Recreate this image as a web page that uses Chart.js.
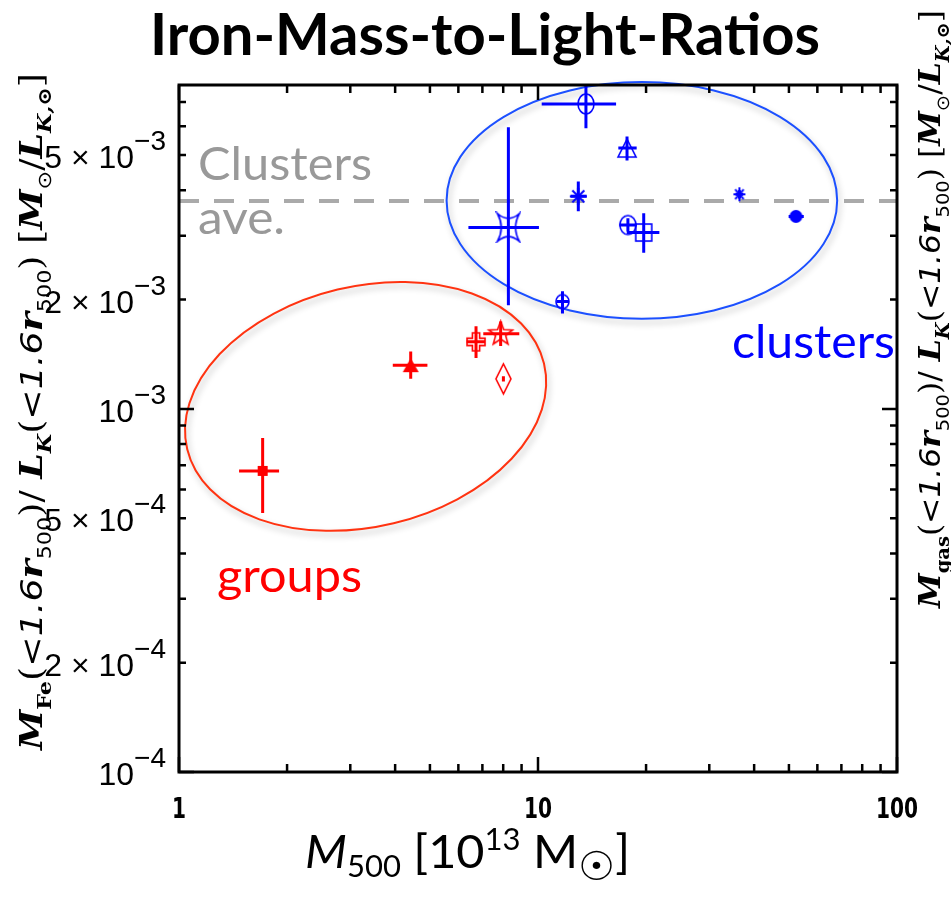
<!DOCTYPE html>
<html>
<head>
<meta charset="utf-8">
<script src="https://cdn.jsdelivr.net/npm/chart.js@4.4.1/dist/chart.umd.min.js"></script>
<style>
  html, body { margin: 0; padding: 0; background: #fff; }
  #chart { display: block; }
</style>
</head>
<body>
<canvas id="chart" width="951" height="908"></canvas>
<script>
// galaxy groups: M500 [1e13 Msun] and iron mass-to-light ratio, with error ranges
let groupMass    = [1.71, 4.42, 6.72, 7.87, 8.01];
let groupMassLo  = [1.47, 3.94, 6.33, 7.04, 8.01];
let groupMassHi  = [1.90, 4.92, 7.12, 8.87, 8.01];
let groupRatio   = [6.75e-4, 1.32e-3, 1.53e-3, 1.61e-3, 1.21e-3];
let groupRatioLo = [5.17e-4, 1.21e-3, 1.38e-3, 1.49e-3, 1.19e-3];
let groupRatioHi = [8.32e-4, 1.44e-3, 1.69e-3, 1.74e-3, 1.23e-3];

// clusters
let clusterMass    = [13.6, 17.7, 12.95, 8.27, 17.8, 19.7, 11.7, 36.4, 52.3];
let clusterMassLo  = [10.24, 16.74, 12.33, 6.40, 16.85, 17.67, 11.27, 35.5, 49.9];
let clusterMassHi  = [16.5, 18.83, 13.66, 10.06, 18.83, 21.78, 12.2, 37.3, 55.0];
let clusterRatio   = [6.92e-3, 5.23e-3, 3.85e-3, 3.16e-3, 3.21e-3, 3.06e-3, 1.975e-3, 3.9e-3, 3.39e-3];
let clusterRatioLo = [5.93e-3, 4.83e-3, 3.50e-3, 1.93e-3, 3.08e-3, 2.69e-3, 1.83e-3, 3.8e-3, 3.32e-3];
let clusterRatioHi = [8.2e-3, 5.63e-3, 4.23e-3, 5.97e-3, 3.35e-3, 3.46e-3, 2.11e-3, 4.0e-3, 3.46e-3];

let clustersAverage = 3.74e-3;

let xTickValues = [1, 10, 100];
let xTickLabels = ["1", "10", "100"];
let yTickValues   = [1e-4, 2e-4, 5e-4, 1e-3, 2e-3, 5e-3];
let yTickMantissa = ["", "2 \u00d7 ", "5 \u00d7 ", "", "2 \u00d7 ", "5 \u00d7 "];
let yTickExponent = ["\u22124", "\u22124", "\u22124", "\u22123", "\u22123", "\u22123"];

const RED = "#ff0000";
const BLUE = "#0000ff";

// marker shapes: [kind, width, height]
let groupShapes = [
    ["square", 10, 10], ["triangle", 16, 14], ["plusOpen", 18, 18],
    ["starOpen", 25, 25], ["diamondOpen", 15, 30]
];
let clusterShapes = [
    ["circleOpen", 16, 20], ["triangleOpen", 18, 18], ["asterisk", 17, 17],
    ["astroid", 22, 28], ["circleOpen", 16, 19], ["squareOpen", 16, 17],
    ["circleOpen", 13, 14], ["asterisk", 12, 14], ["circle", 13, 13]
];

// outline ellipses, centre in data units, radii in decades
let groupEllipse   = { x: 3.31, y: 1.016e-3, rx: 0.511, ry: 0.331, tilt: 13.5, color: "#ff3311" };
let clusterEllipse = { x: 19.47, y: 3.75e-3, rx: 0.544, ry: 0.326, tilt: 0, color: "#1c50ff" };

function makeMarker(shape, color){
    let kind = shape[0], w = shape[1], h = shape[2];
    let c = document.createElement("canvas");
    c.width = w + 4;
    c.height = h + 4;
    let g = c.getContext("2d");
    g.translate(c.width / 2, c.height / 2);
    g.strokeStyle = color;
    g.fillStyle = color;
    g.lineWidth = 1.6;
    g.beginPath();
    if(kind === "square"){
        g.fillRect(-w / 2, -h / 2, w, h);
    } else if(kind === "squareOpen"){
        g.strokeRect(-w / 2, -h / 2, w, h);
    } else if(kind === "triangle" || kind === "triangleOpen"){
        g.moveTo(0, -h / 2);
        g.lineTo(w / 2, h / 2);
        g.lineTo(-w / 2, h / 2);
        g.closePath();
        kind === "triangle" ? g.fill() : g.stroke();
    } else if(kind === "circle" || kind === "circleOpen"){
        g.ellipse(0, 0, w / 2, h / 2, 0, 0, Math.PI * 2);
        kind === "circle" ? g.fill() : g.stroke();
    } else if(kind === "diamondOpen"){
        g.moveTo(0, -h / 2);
        g.lineTo(w / 2, 0);
        g.lineTo(0, h / 2);
        g.lineTo(-w / 2, 0);
        g.closePath();
        g.stroke();
    } else if(kind === "plusOpen"){
        let a = w / 2, t = w * 0.2;
        let pts = [[-t,-a],[t,-a],[t,-t],[a,-t],[a,t],[t,t],[t,a],[-t,a],[-t,t],[-a,t],[-a,-t],[-t,-t]];
        pts.forEach((p, i) => i ? g.lineTo(p[0], p[1]) : g.moveTo(p[0], p[1]));
        g.closePath();
        g.stroke();
    } else if(kind === "starOpen"){
        let ro = w / 2, ri = ro * 0.42;
        for(let i = 0; i < 10; i++){
            let r = i % 2 ? ri : ro;
            let ang = -Math.PI / 2 + i * Math.PI / 5;
            let px = r * Math.cos(ang), py = r * Math.sin(ang);
            i ? g.lineTo(px, py) : g.moveTo(px, py);
        }
        g.closePath();
        g.stroke();
    } else if(kind === "asterisk"){
        g.lineWidth = 2;
        for(let i = 0; i < 4; i++){
            let ang = i * Math.PI / 4;
            g.moveTo(-Math.sin(ang) * w / 2, -Math.cos(ang) * h / 2);
            g.lineTo(Math.sin(ang) * w / 2, Math.cos(ang) * h / 2);
        }
        g.stroke();
    } else if(kind === "astroid"){
        let a = w / 2, b = h / 2, k = 0.3;
        g.moveTo(-a, -b);
        g.quadraticCurveTo(0, -b * k, a, -b);
        g.quadraticCurveTo(a * k, 0, a, b);
        g.quadraticCurveTo(0, b * k, -a, b);
        g.quadraticCurveTo(-a * k, 0, -a, -b);
        g.closePath();
        g.stroke();
    }
    return c;
}

function toPoints(xs, ys){
    let pts = [];
    for(let i = 0; i < xs.length; i++){
        pts.push({x: xs[i], y: ys[i]});
    }
    return pts;
}

// text runs drawn one after another, stretched to a given length
function drawRuns(ctx, runs, length){
    let total = 0;
    for(let r of runs){
        ctx.font = r[1];
        total += ctx.measureText(r[0]).width;
    }
    ctx.save();
    ctx.scale(length / total, 1);
    let x = 0;
    for(let r of runs){
        ctx.font = r[1];
        ctx.fillText(r[0], x, r[2]);
        x += ctx.measureText(r[0]).width;
    }
    ctx.restore();
}

function fitText(ctx, text, x, y, font, width, color){
    ctx.save();
    ctx.font = font;
    ctx.fillStyle = color;
    ctx.textAlign = "left";
    ctx.textBaseline = "alphabetic";
    let w = ctx.measureText(text).width;
    ctx.translate(x, y);
    ctx.scale(width / w, 1);
    ctx.fillText(text, 0, 0);
    ctx.restore();
}

function ratioTitleRuns(sub, s){
    let it = "bold italic " + s + "px 'DejaVu Serif'";
    let small = Math.round(s * 0.62);
    let sb = "bold " + small + "px 'DejaVu Serif'";
    let sbi = "bold italic " + small + "px 'DejaVu Serif'";
    let rm = s + "px 'DejaVu Serif'";
    let sn = "oblique " + s + "px 'DejaVu Sans'";
    let ss = small + "px 'DejaVu Sans'";
    let d = s * 0.3;
    return [
        ["M", it, 0], [sub, sb, d], ["(", rm, 0], ["<1.6", sn, 0], ["r", it, 0], ["500", ss, d], [")/ ", rm, 0],
        ["L", it, 0], ["K", sbi, d], ["(", rm, 0], ["<1.6", sn, 0], ["r", it, 0], ["500", ss, d], [") ", rm, 0],
        ["[", rm, 0], ["M", it, 0], ["\u2299", ss, d], ["/", rm, 0], ["L", it, 0], ["K,\u2299", sbi, d], ["]", rm, 0]
    ];
}

function drawEllipse(ctx, xs, ys, e){
    let cx = xs.getPixelForValue(e.x);
    let cy = ys.getPixelForValue(e.y);
    let decX = xs.getPixelForValue(10) - xs.getPixelForValue(1);
    let decY = ys.getPixelForValue(1e-4) - ys.getPixelForValue(1e-3);
    ctx.save();
    ctx.shadowColor = "rgba(0,0,0,0.28)";
    ctx.shadowBlur = 6;
    ctx.shadowOffsetX = 2;
    ctx.shadowOffsetY = 4;
    ctx.strokeStyle = e.color;
    ctx.lineWidth = 2;
    ctx.beginPath();
    ctx.ellipse(cx, cy, e.rx * decX, e.ry * decY, -e.tilt * Math.PI / 180, 0, Math.PI * 2);
    ctx.stroke();
    ctx.restore();
}

function drawErrorBars(ctx, xs, ys, mass, lo, hi, ratio, rlo, rhi, color){
    ctx.save();
    ctx.strokeStyle = color;
    ctx.lineWidth = 3;
    ctx.beginPath();
    for(let i = 0; i < mass.length; i++){
        let px = xs.getPixelForValue(mass[i]);
        let py = ys.getPixelForValue(ratio[i]);
        ctx.moveTo(xs.getPixelForValue(lo[i]), py);
        ctx.lineTo(xs.getPixelForValue(hi[i]), py);
        ctx.moveTo(px, ys.getPixelForValue(rlo[i]));
        ctx.lineTo(px, ys.getPixelForValue(rhi[i]));
    }
    ctx.stroke();
    ctx.restore();
}

const decorations = {
    id: "decorations",
    beforeDatasetsDraw(chart){
        let ctx = chart.ctx, a = chart.chartArea;
        let xs = chart.scales.x, ys = chart.scales.y;

        drawEllipse(ctx, xs, ys, groupEllipse);
        drawEllipse(ctx, xs, ys, clusterEllipse);

        ctx.save();
        ctx.beginPath();
        ctx.rect(a.left, a.top, a.right - a.left, a.bottom - a.top);
        ctx.clip();

        // average of the clusters
        let ay = ys.getPixelForValue(clustersAverage);
        ctx.strokeStyle = "#aaaaaa";
        ctx.lineWidth = 4;
        ctx.setLineDash([20, 15]);
        ctx.beginPath();
        ctx.moveTo(a.left, ay);
        ctx.lineTo(a.right, ay);
        ctx.stroke();
        ctx.setLineDash([]);

        drawErrorBars(ctx, xs, ys, groupMass, groupMassLo, groupMassHi, groupRatio, groupRatioLo, groupRatioHi, RED);
        drawErrorBars(ctx, xs, ys, clusterMass, clusterMassLo, clusterMassHi, clusterRatio, clusterRatioLo, clusterRatioHi, BLUE);
        ctx.restore();
    },
    afterDatasetsDraw(chart){
        let ctx = chart.ctx, a = chart.chartArea;
        let xs = chart.scales.x, ys = chart.scales.y;

        // frame with inward ticks on all sides
        ctx.save();
        ctx.strokeStyle = "#000";
        ctx.lineWidth = 3;
        ctx.strokeRect(a.left, a.top, a.right - a.left, a.bottom - a.top);
        ctx.lineWidth = 2.5;
        ctx.beginPath();
        for(let e = 0; e <= 2; e++){
            for(let m = 1; m <= 9; m++){
                let v = m * Math.pow(10, e);
                if(v > 100) break;
                let px = xs.getPixelForValue(v);
                let len = m === 1 ? 15 : 8;
                ctx.moveTo(px, a.bottom); ctx.lineTo(px, a.bottom - len);
                ctx.moveTo(px, a.top); ctx.lineTo(px, a.top + len);
            }
        }
        for(let e = -4; e <= -3; e++){
            for(let m = 1; m <= 9; m++){
                let v = m * Math.pow(10, e);
                if(v > ys.max) break;
                let py = ys.getPixelForValue(v);
                let len = m === 1 ? 15 : 7;
                ctx.moveTo(a.left, py); ctx.lineTo(a.left + len, py);
                ctx.moveTo(a.right, py); ctx.lineTo(a.right - len, py);
            }
        }
        ctx.stroke();

        // tick labels
        ctx.fillStyle = "#000";
        ctx.textAlign = "center";
        ctx.textBaseline = "alphabetic";
        ctx.font = "bold 28px 'DejaVu Sans'";
        xTickValues.forEach((v, i) => {
            ctx.save();
            ctx.translate(xs.getPixelForValue(v), a.bottom + 46);
            ctx.scale(0.72, 1);
            ctx.fillText(xTickLabels[i], 0, 0);
            ctx.restore();
        });
        ctx.textAlign = "left";
        let baseFont = "32px 'Liberation Sans'";
        let supFont = "28px 'Liberation Sans'";
        yTickValues.forEach((v, i) => {
            let py = ys.getPixelForValue(v);
            let base = yTickMantissa[i] + "10";
            ctx.font = baseFont;
            let wb = ctx.measureText(base).width;
            ctx.font = supFont;
            let ws = ctx.measureText(yTickExponent[i]).width;
            let right = a.left - 13;
            ctx.font = baseFont;
            ctx.fillText(base, right - ws - wb, py + 13);
            ctx.font = supFont;
            ctx.fillText(yTickExponent[i], right - ws, py - 5);
        });
        ctx.restore();

        // axis titles
        ctx.save();
        ctx.fillStyle = "#000";
        ctx.textAlign = "left";
        ctx.textBaseline = "alphabetic";
        ctx.translate(42, 750);
        ctx.rotate(-Math.PI / 2);
        drawRuns(ctx, ratioTitleRuns("Fe", 31), 677);
        ctx.restore();

        ctx.save();
        ctx.fillStyle = "#000";
        ctx.textAlign = "left";
        ctx.textBaseline = "alphabetic";
        ctx.translate(940, 608);
        ctx.rotate(-Math.PI / 2);
        drawRuns(ctx, ratioTitleRuns("gas", 29), 598);
        ctx.restore();

        ctx.save();
        ctx.fillStyle = "#000";
        ctx.textAlign = "left";
        ctx.textBaseline = "alphabetic";
        ctx.translate(305, 868);
        drawRuns(ctx, [
            ["M", "italic 47px Lato", 0], ["500", "30px Lato", 9], [" [10", "47px Lato", 0],
            ["13", "30px Lato", -18], [" M", "47px Lato", 0], ["\u2609", "40px 'DejaVu Sans'", 12], ["]", "47px Lato", 0]
        ], 325);
        ctx.restore();

        // chart title and notes
        fitText(ctx, "Iron-Mass-to-Light-Ratios", 150, 55, "bold 58px Lato", 670, "#000");
        fitText(ctx, "Clusters", xs.getPixelForValue(1.13), ys.getPixelForValue(4.27e-3), "46px Lato", 174, "#999999");
        fitText(ctx, "ave.", xs.getPixelForValue(1.13), ys.getPixelForValue(3.03e-3), "46px Lato", 87, "#999999");
        fitText(ctx, "clusters", xs.getPixelForValue(34.7), ys.getPixelForValue(1.38e-3), "46px Lato", 163, BLUE);
        fitText(ctx, "groups", xs.getPixelForValue(1.276), ys.getPixelForValue(3.13e-4), "46px Lato", 145, RED);
    }
};

new Chart(document.getElementById("chart"), {
    type: "scatter",
    data: {
        datasets: [
            {
                label: "groups",
                data: toPoints(groupMass, groupRatio),
                pointStyle: groupShapes.map(s => makeMarker(s, RED)),
                pointRadius: 8
            },
            {
                label: "clusters",
                data: toPoints(clusterMass, clusterRatio),
                pointStyle: clusterShapes.map(s => makeMarker(s, BLUE)),
                pointRadius: 8
            }
        ]
    },
    options: {
        responsive: false,
        animation: false,
        devicePixelRatio: 1,
        layout: { padding: { left: 179, right: 54, top: 85, bottom: 136 } },
        scales: {
            x: { type: "logarithmic", min: 1, max: 100, display: false },
            y: { type: "logarithmic", min: 1e-4, max: 7.8e-3, display: false }
        },
        plugins: {
            legend: { display: false },
            tooltip: { enabled: false }
        }
    },
    plugins: [decorations]
});
</script>
</body>
</html>
